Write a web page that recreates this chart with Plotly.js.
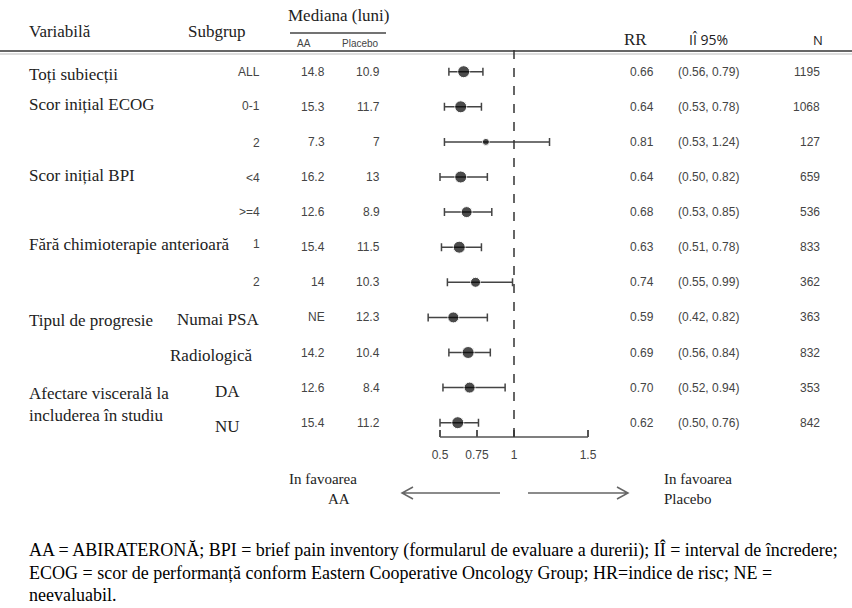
<!DOCTYPE html>
<html>
<head>
<meta charset="utf-8">
<script src="https://cdn.plot.ly/plotly-3.0.1.min.js"></script>
<style>html,body{margin:0;padding:0;background:#fff;}#chart{width:852px;height:608px;}</style>
</head>
<body>
<div id="chart"></div>
<script>
// ---------- DATA ----------
const variables = ["Toți subiecții", "Scor inițial ECOG", "", "Scor inițial BPI", "", "Fără chimioterapie anterioară", "", "Tipul de progresie", "", "Afectare viscerală la<br>includerea în studiu", ""];
const subgroups = ["ALL", "0-1", "2", "<4", ">=4", "1", "2", "Numai PSA", "Radiologică", "DA", "NU"];
const medianAA = ["14.8", "15.3", "7.3", "16.2", "12.6", "15.4", "14", "NE", "14.2", "12.6", "15.4"];
const medianPlacebo = ["10.9", "11.7", "7", "13", "8.9", "11.5", "10.3", "12.3", "10.4", "8.4", "11.2"];
const rr = [0.66, 0.64, 0.81, 0.64, 0.68, 0.63, 0.74, 0.59, 0.69, 0.70, 0.62];
const ciLow = [0.56, 0.53, 0.53, 0.50, 0.53, 0.51, 0.55, 0.42, 0.56, 0.52, 0.50];
const ciHigh = [0.79, 0.78, 1.24, 0.82, 0.85, 0.78, 0.99, 0.82, 0.84, 0.94, 0.76];
const nSubjects = [1195, 1068, 127, 659, 536, 833, 362, 363, 832, 353, 842];
const tickValues = [0.5, 0.75, 1, 1.5];
const tickLabels = ["0.5", "0.75", "1", "1.5"];

// ---------- STYLE / LAYOUT HELPERS ----------
const W = 852, H = 608;
const px = v => v / W;
const py = v => 1 - v / H;
const SERIF = "Liberation Serif, Times New Roman, serif";
const SANS = "Liberation Sans, Arial, sans-serif";
const markerSizes = [12, 12, 7, 12, 11, 12, 10, 11, 12, 11, 12];
const varShift = [-3, 2, 0, 1, 0, 3, 0, -3, 0, -17, 0];
const subSerif = [false, false, false, false, false, false, false, true, true, true, true];
const subRight = [262, 262, 262, 262, 262, 262, 262, 261, 255, 242, 242];
const subShift = [0, 1, -1, -1, 0, 3, 0, -2, -3, -4, -4];

const rows = rr.map((_, i) => i);

const trace = {
  type: "scatter",
  mode: "markers",
  x: rr,
  y: rows,
  marker: {color: "#000", size: markerSizes},
  error_x: {
    type: "data", symmetric: false,
    array: ciHigh.map((h, i) => h - rr[i]),
    arrayminus: ciLow.map((l, i) => rr[i] - l),
    color: "#444", thickness: 1.5, width: 4
  },
  hoverinfo: "skip",
  showlegend: false
};

const ann = [];
function txt(text, x, y, opts) {
  ann.push(Object.assign({
    text: text, x: x, y: y, xref: "paper", yref: "paper",
    showarrow: false, xanchor: "left", yanchor: "middle",
    font: {family: SERIF, size: 17, color: "#222"}
  }, opts || {}));
}

// header
txt("Variabilă", px(27), py(32));
txt("Subgrup", px(186), py(32));
txt("Mediana (luni)", px(339), py(16), {xanchor: "center"});
txt("AA", px(304), py(43), {xanchor: "center", font: {family: SANS, size: 10, color: "#444"}});
txt("Placebo", px(360), py(43), {xanchor: "center", font: {family: SANS, size: 10, color: "#444"}});
txt("RR", px(635), py(40), {xanchor: "center"});
txt("IÎ 95%", px(708), py(40), {xanchor: "center", font: {family: "Open Sans, sans-serif", size: 14, color: "#222"}});
txt("N", px(818), py(40), {xanchor: "center", font: {family: "Open Sans, sans-serif", size: 13, color: "#222"}});

// rows
const numFont = {family: SANS, size: 12, color: "#444"};
rows.forEach(i => {
  if (variables[i]) {
    ann.push({text: variables[i], x: px(27), y: i, xref: "paper", yref: "y", showarrow: false,
      xanchor: "left", yanchor: "middle", align: "left", yshift: varShift[i],
      font: {family: SERIF, size: 17, color: "#222"}});
  }
  ann.push({text: subgroups[i], x: px(subRight[i]), y: i, xref: "paper", yref: "y", showarrow: false,
    xanchor: "right", yanchor: "middle", yshift: subShift[i],
    font: subSerif[i] ? {family: SERIF, size: 17, color: "#222"} : numFont});
  ann.push({text: medianAA[i], x: px(327), y: i, xref: "paper", yref: "y", showarrow: false,
    xanchor: "right", yanchor: "middle", font: numFont});
  ann.push({text: medianPlacebo[i], x: px(382), y: i, xref: "paper", yref: "y", showarrow: false,
    xanchor: "right", yanchor: "middle", font: numFont});
  ann.push({text: rr[i].toFixed(2), x: px(628), y: i, xref: "paper", yref: "y", showarrow: false,
    xanchor: "left", yanchor: "middle", font: numFont});
  ann.push({text: "(" + ciLow[i].toFixed(2) + ", " + ciHigh[i].toFixed(2) + ")", x: px(676), y: i, xref: "paper", yref: "y", showarrow: false,
    xanchor: "left", yanchor: "middle", font: numFont});
  ann.push({text: String(nSubjects[i]), x: px(822), y: i, xref: "paper", yref: "y", showarrow: false,
    xanchor: "right", yanchor: "middle", font: numFont});
});

// favour labels
const favFont = {family: SERIF, size: 15, color: "#222"};
txt("In favoarea", px(287), py(479), {font: favFont});
txt("AA", px(352), py(499), {xanchor: "right", font: favFont});
txt("In favoarea", px(662), py(479), {font: favFont});
txt("Placebo", px(662), py(499), {font: favFont});

// footnote
const footFont = {family: SERIF, size: 18, color: "#000"};
txt("AA = ABIRATERONĂ; BPI = brief pain inventory (formularul de evaluare a durerii); IÎ = interval de încredere;", px(27), py(550), {font: footFont});
txt("ECOG = scor de performanță conform Eastern Cooperative Oncology Group; HR=indice de risc; NE =", px(27), py(573), {font: footFont});
txt("neevaluabil.", px(27), py(595), {font: footFont});

// geometry
const xLeftPx = 412, xRightPx = 610;
const axLeftVal = 0.5 - (440 - xLeftPx) / 148;
const axRightVal = 1.5 + (xRightPx - 588) / 148;
const plotTop = 42, plotBottom = 437;
const rowTopPx = 71.7, rowStep = 35.1;

const lineC = "#555";
const shapes = [
  // header rules
  {type: "line", xref: "paper", yref: "paper", x0: 0, x1: 1, y0: py(51), y1: py(51), line: {color: "#666", width: 2}},
  {type: "line", xref: "paper", yref: "paper", x0: 0, x1: 1, y0: py(54), y1: py(54), line: {color: "#bbb", width: 1}},
  {type: "line", xref: "paper", yref: "paper", x0: px(290), x1: px(386), y0: py(33), y1: py(33), line: {color: "#444", width: 1.5}},
  // axis line 0.5 - 1.5
  {type: "line", xref: "x", yref: "paper", x0: 0.5, x1: 1.5, y0: py(plotBottom), y1: py(plotBottom), line: {color: lineC, width: 1.5}},
  // reference line at 1
  {type: "line", xref: "x", yref: "paper", x0: 1, x1: 1, y0: py(plotBottom), y1: py(plotTop), line: {color: "#333", width: 1.5, dash: "dash"}},
  // arrows
  {type: "path", xref: "paper", yref: "paper", path: `M ${px(500)} ${py(493)} L ${px(402)} ${py(493)} M ${px(413)} ${py(487)} L ${px(402)} ${py(493)} L ${px(413)} ${py(499)}`, line: {color: "#666", width: 1.5}},
  {type: "path", xref: "paper", yref: "paper", path: `M ${px(528)} ${py(493)} L ${px(628)} ${py(493)} M ${px(617)} ${py(487)} L ${px(628)} ${py(493)} L ${px(617)} ${py(499)}`, line: {color: "#666", width: 1.5}}
];

const layout = {
  width: W, height: H,
  margin: {l: 0, r: 0, t: 0, b: 0},
  paper_bgcolor: "#fff", plot_bgcolor: "rgba(0,0,0,0)",
  showlegend: false,
  xaxis: {
    domain: [px(xLeftPx), px(xRightPx)],
    range: [axLeftVal, axRightVal],
    showgrid: false, zeroline: false, showline: false,
    tickmode: "array", tickvals: tickValues, ticktext: tickLabels,
    ticks: "inside", ticklen: 7, tickwidth: 1.5, tickcolor: lineC,
    ticklabelstandoff: 9,
    tickfont: {family: SANS, size: 12, color: "#444"},
    fixedrange: true
  },
  yaxis: {
    domain: [py(plotBottom), py(plotTop)],
    range: [10 + (plotBottom - (rowTopPx + 10 * rowStep)) / rowStep, -(rowTopPx - plotTop) / rowStep],
    showgrid: false, zeroline: false, showline: false, showticklabels: false, ticks: "",
    fixedrange: true
  },
  annotations: ann,
  shapes: shapes
};

Plotly.newPlot("chart", [trace], layout, {displayModeBar: false, staticPlot: true});
</script>
</body>
</html>
